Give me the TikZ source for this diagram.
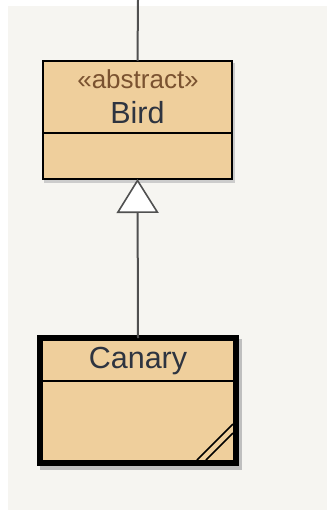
\documentclass[tikz,border=0pt]{standalone}
\usepackage{fontspec}
\setmainfont{Liberation Sans}
\usetikzlibrary{arrows.meta}
\definecolor{panelbg}{HTML}{F6F5F1}
\definecolor{boxfill}{HTML}{EFCF9C}
\definecolor{stereo}{HTML}{7A5230}
\definecolor{nametext}{HTML}{2E3440}
\definecolor{linkgray}{HTML}{505050}
\begin{document}
\begin{tikzpicture}[x=1pt,y=-1pt,
  classbox/.style={draw=black, fill=boxfill, inner sep=0pt, outer sep=0pt},
  namelabel/.style={font=\fontsize{30.5}{32}\selectfont, text=nametext, inner sep=0pt},
  stereolabel/.style={font=\fontsize{26}{28}\selectfont, text=stereo, inner sep=0pt},
  link/.style={draw=linkgray, line width=2pt},
  generalization/.style={link, -{Triangle[open, length=34pt, width=42pt, line width=1.6pt, fill=white]}},
  divider/.style={draw=black, line width=2pt}]
\useasboundingbox (0,0) rectangle (327,513);
\fill[white] (0,0) rectangle (327,513);
\fill[panelbg] (8,6) rectangle (327,510);
% shadows
\fill[black!20] (44,63) rectangle (235,183);
\fill[black!25] (40,339) rectangle (242,470);
% Bird
\node[classbox, line width=2pt, minimum width=189pt, minimum height=118pt] (bird) at (137.5,120) {};
\draw[divider] (43,133) -- (232,133);
\node[stereolabel] (birdstereo) at (138,79) {«abstract»};
\node[namelabel] (birdname) at (137.5,113) {Bird};
% Canary
\node[classbox, line width=6pt, minimum width=196pt, minimum height=125pt] (canary) at (138,400.5) {};
\draw[divider] (43,381) -- (233,381);
\node[namelabel] (canaryname) at (138,361) {Canary};
\draw[line width=1.5pt] (197,460) -- (233,424);
\draw[line width=1.5pt] (206,460) -- (233,433);
% connectors
\coordinate (topend) at (138,0);
\draw[link] (topend) -- (bird.north);
\draw[generalization] (canary.north) -- (bird.south);
\end{tikzpicture}
\end{document}
